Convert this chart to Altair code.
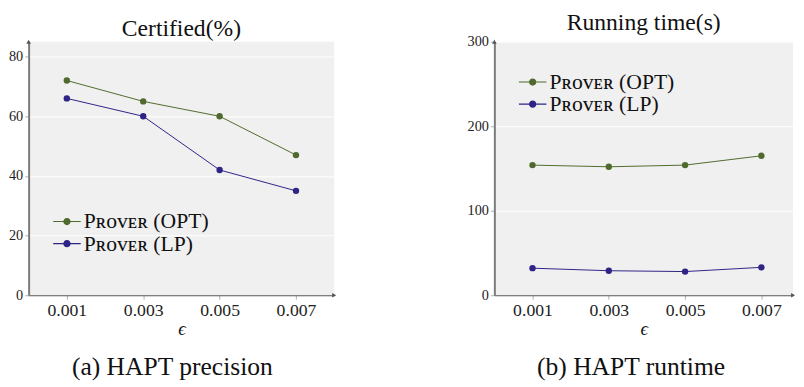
import altair as alt
import pandas as pd

# ---- data ----
eps = [0.001, 0.003, 0.005, 0.007]
series = ["Pʀᴏᴠᴇʀ (OPT)", "Pʀᴏᴠᴇʀ (LP)"]
cert_opt = [72, 65, 60, 47]
cert_lp = [66, 60, 42, 35]
time_opt = [154, 152, 154, 165]
time_lp = [32, 29, 28, 33]
cert_ticks = [0, 20, 40, 60, 80]
time_ticks = [0, 100, 200, 300]
colors = ["#4f6a2c", "#2e2386"]

FONT = "'Liberation Serif', 'DejaVu Serif', serif"
H = 258

# legend symbol: short line with a (filled-looking) dot in the middle
def ring(r):
    return f"M{r},0A{r},{r},0,1,1,{-r},0A{r},{r},0,1,1,{r},0"

SYMBOL = "M-2,0H2" + "".join(ring(r) for r in (0.45, 0.32, 0.2, 0.08))


def frame(opt, lp):
    rows = []
    for e, a, b in zip(eps, opt, lp):
        rows.append({"eps": e, "val": a, "series": series[0]})
        rows.append({"eps": e, "val": b, "series": series[1]})
    return pd.DataFrame(rows)


def panel(df, ymax, yticks, title, caption, leg_y, width, xmax):
    x = alt.X("eps:Q",
              scale=alt.Scale(domain=[0, xmax], nice=False, zero=False),
              axis=alt.Axis(values=eps, format=".3f", title="ϵ", grid=False,
                            labelFontSize=18, titleFontSize=19,
                            titleFontStyle="italic", titleFontWeight="normal",
                            titlePadding=0, labelPadding=3, tickSize=4,
                            domainColor="#555", domainWidth=1.2,
                            tickColor="#b0b0b0"))
    y = alt.Y("val:Q",
              scale=alt.Scale(domain=[0, ymax], nice=False),
              axis=alt.Axis(values=yticks, title=None, grid=True,
                            gridColor="white", gridWidth=1,
                            labelFontSize=14.5, labelPadding=2, tickSize=4,
                            domainColor="#7a7a7a", domainWidth=2,
                            tickColor="#b0b0b0"))
    leg = alt.Legend(orient="none", legendX=0, legendY=leg_y, title=None,
                     symbolType=SYMBOL, symbolSize=196, symbolStrokeWidth=1.1,
                     symbolOffset=28, labelOffset=6, labelFont=FONT,
                     labelFontSize=22, labelColor="#111", rowPadding=0.5,
                     padding=0, labelLimit=400)
    color = alt.Color("series:N", scale=alt.Scale(domain=series, range=colors),
                      legend=leg)
    lines = alt.Chart(df).mark_line(strokeWidth=1).encode(x=x, y=y, color=color)
    pts = alt.Chart(df).mark_point(filled=True, size=42, opacity=1).encode(
        x=x, y=y, color=color)
    arrows_df = pd.DataFrame({"eps": [0, xmax], "val": [ymax, 0],
                              "shape": ["triangle-up", "triangle-right"]})
    arrows = alt.Chart(arrows_df).mark_point(filled=True, size=22, opacity=1,
                                            color="#555").encode(
        x=x, y=y, shape=alt.Shape("shape:N", scale=None))
    layer = alt.layer(lines, pts, arrows).properties(
        width=width, height=H,
        title=alt.Title(title, font=FONT, fontSize=24, fontWeight="normal",
                        color="#111", frame="group", offset=-1))
    return alt.vconcat(layer).properties(
        title=alt.Title(caption, orient="bottom", font=FONT, fontSize=26,
                        fontWeight="normal", color="#111", offset=16,
                        anchor="middle", frame="bounds")
    ).resolve_scale(color="independent").resolve_legend(color="independent")


left = panel(frame(cert_opt, cert_lp), 85, cert_ticks, "Certified(%)",
             "(a) HAPT precision", 172, 311, 0.008)
right = panel(frame(time_opt, time_lp), 300, time_ticks, "Running time(s)",
              "(b) HAPT runtime", 30, 304, 0.00783)

chart = alt.hconcat(left, right, spacing=132).resolve_scale(
    color="independent").resolve_legend(color="independent").properties(
    padding={"left": 0, "top": 0, "right": 0, "bottom": 0},
    background="white"
).configure_view(stroke=None, fill="#f0f0f0").configure_axis(
    labelFont=FONT, titleFont=FONT, labelColor="#222", titleColor="#111"
)

chart.save("out.html", embed_options={"renderer": "svg", "actions": False})
